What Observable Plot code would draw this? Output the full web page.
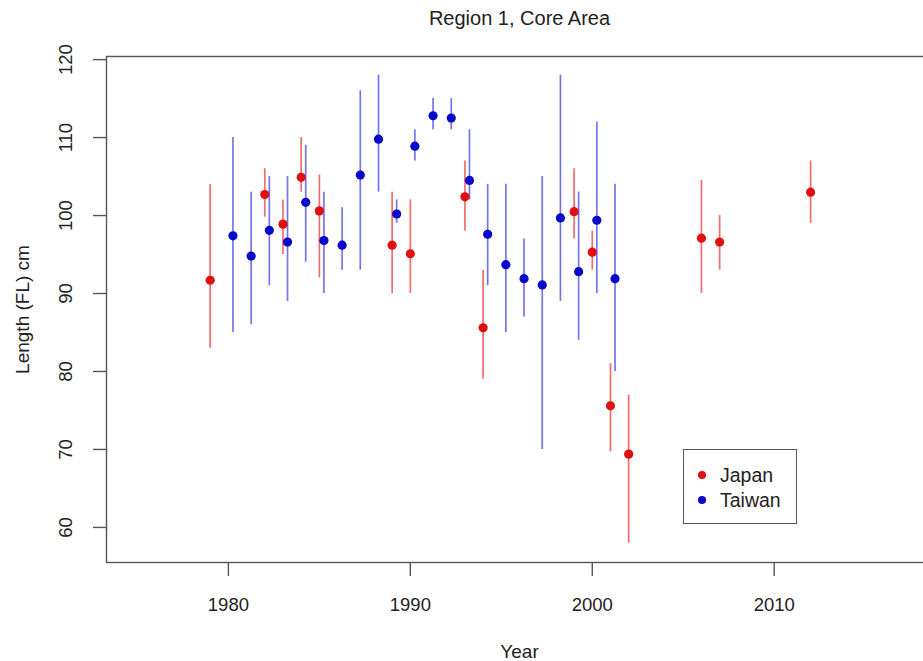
<!DOCTYPE html>
<html>
<head>
<meta charset="utf-8">
<script src="https://cdn.jsdelivr.net/npm/d3@7"></script>
<script src="https://cdn.jsdelivr.net/npm/@observablehq/plot@0.6"></script>
<style>
  html, body { margin: 0; padding: 0; background: #fff; }
  #chart { position: relative; width: 923px; height: 661px; overflow: hidden; }
  .legend {
    position: absolute; left: 683px; top: 449px; width: 112px; height: 73px;
    border: 1.5px solid #555; background: #fff;
    font-family: "Liberation Sans", Arial, sans-serif; font-size: 19.5px; color: #222;
  }
  .legend .row { position: absolute; left: 0; height: 22px; line-height: 22px; }
  .legend .dot { position: absolute; left: 14px; top: 7px; width: 8px; height: 8px; border-radius: 50%; }
  .legend .lab { position: absolute; left: 36px; top: 0; white-space: nowrap; }
</style>
</head>
<body>
<div id="chart"></div>
<script>
// Mean fork length by year, with interval bounds, for each fleet
const japanYear = [1979, 1982, 1983, 1984, 1985, 1989, 1990, 1993, 1994, 1999, 2000, 2001, 2002, 2006, 2007, 2012];
const japanMean = [91.7, 102.7, 98.9, 104.9, 100.6, 96.2, 95.1, 102.4, 85.6, 100.5, 95.3, 75.6, 69.4, 97.1, 96.6, 103.0];
const japanLow  = [83.0, 99.8, 95.0, 103.0, 92.0, 90.0, 90.0, 98.0, 79.0, 97.0, 93.0, 69.7, 58.0, 90.0, 93.0, 99.0];
const japanHigh = [104.0, 106.0, 102.0, 110.0, 105.2, 103.0, 102.0, 107.0, 93.0, 106.0, 98.0, 81.0, 77.0, 104.5, 100.0, 107.0];

const taiwanYear = [1980, 1981, 1982, 1983, 1984, 1985, 1986, 1987, 1988, 1989, 1990, 1991, 1992, 1993, 1994, 1995, 1996, 1997, 1998, 1999, 2000, 2001];
const taiwanMean = [97.4, 94.8, 98.1, 96.6, 101.7, 96.8, 96.2, 105.2, 109.8, 100.2, 108.9, 112.8, 112.5, 104.5, 97.6, 93.7, 91.9, 91.1, 99.7, 92.8, 99.4, 91.9];
const taiwanLow  = [85.0, 86.0, 91.0, 89.0, 94.0, 90.0, 93.0, 93.0, 103.0, 99.0, 107.0, 111.0, 111.0, 102.0, 91.0, 85.0, 87.0, 70.0, 89.0, 84.0, 90.0, 80.0];
const taiwanHigh = [110.0, 103.0, 105.0, 105.0, 109.0, 103.0, 101.0, 116.0, 118.0, 102.0, 111.0, 115.0, 115.0, 111.0, 104.0, 104.0, 97.0, 105.0, 118.0, 103.0, 112.0, 104.0];

const countries = ["Japan", "Taiwan"];
const dotColors = ["#e01010", "#0808c8"];
const barColors = ["#e83030", "#3a3ae0"];

const xTicks = [1980, 1990, 2000, 2010];
const yTicks = [60, 70, 80, 90, 100, 110, 120];

const titleText = "Region 1, Core Area";
const xLabel = "Year";
const yLabel = "Length (FL) cm";

// Taiwan estimates sit a quarter year to the right of Japan's
const yearShift = {Japan: 0, Taiwan: 0.25};

function rows(country, years, mean, low, high) {
  return years.map((year, i) => ({country, year, mean: mean[i], low: low[i], high: high[i]}));
}
const data = [
  ...rows("Japan", japanYear, japanMean, japanLow, japanHigh),
  ...rows("Taiwan", taiwanYear, taiwanMean, taiwanLow, taiwanHigh)
];
const xPos = d => d.year + yearShift[d.country];

const font = '"Liberation Sans", Arial, sans-serif';

const chart = Plot.plot({
  width: 923,
  height: 661,
  marginLeft: 106,
  marginRight: -9,
  marginTop: 56,
  marginBottom: 99,
  style: {fontFamily: font, fontSize: "19px", color: "#222", background: "#fff"},
  x: {domain: [1973.3, 2018.7]},
  y: {domain: [55.5, 120.4]},
  color: {domain: countries, range: dotColors},
  marks: [
    Plot.ruleX(data, {
      x: xPos, y1: "low", y2: "high",
      stroke: d => barColors[countries.indexOf(d.country)],
      strokeWidth: 1.7, strokeOpacity: 0.7
    }),
    Plot.dot(data, {x: xPos, y: "mean", fill: "country", r: 4.6}),
    Plot.frame({stroke: "#555", strokeWidth: 1.4}),
    Plot.axisX({ticks: xTicks, tickFormat: d => String(d), tickSize: 14, tickPadding: 21, label: null, stroke: "#555", strokeWidth: 1.4, fontSize: 18.5}),
    Plot.axisY({ticks: yTicks, tickSize: 13, tickPadding: 22, tickRotate: -90, label: null, stroke: "#555", strokeWidth: 1.4, fontSize: 18.5}),
    Plot.text([titleText], {frameAnchor: "top", text: d => d, dy: -38, lineAnchor: "middle", fontSize: 20}),
    Plot.text([xLabel], {frameAnchor: "bottom", text: d => d, dy: 89, lineAnchor: "middle", fontSize: 19}),
    Plot.text([yLabel], {frameAnchor: "left", text: d => d, dx: -84, rotate: -90, textAnchor: "middle", lineAnchor: "middle", fontSize: 19})
  ]
});

const root = document.getElementById("chart");
root.appendChild(chart);

// Legend box inside the plotting area
const legend = document.createElement("div");
legend.className = "legend";
countries.forEach((c, i) => {
  const row = document.createElement("div");
  row.className = "row";
  row.style.top = (14 + i * 25) + "px";
  row.style.width = "100%";
  const dot = document.createElement("span");
  dot.className = "dot";
  dot.style.background = dotColors[i];
  const lab = document.createElement("span");
  lab.className = "lab";
  lab.textContent = c;
  row.appendChild(dot);
  row.appendChild(lab);
  legend.appendChild(row);
});
root.appendChild(legend);
</script>
</body>
</html>
